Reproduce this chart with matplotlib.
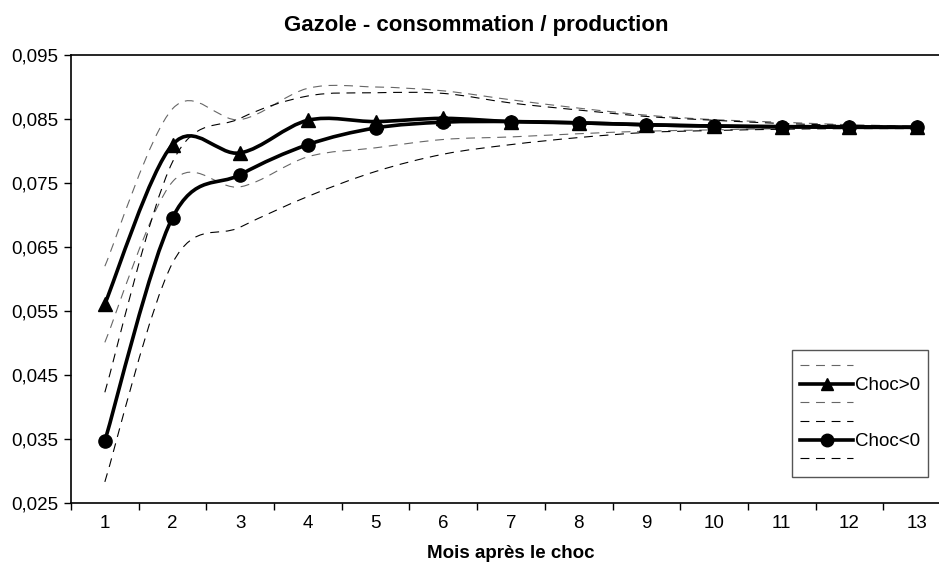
import matplotlib
matplotlib.use("Agg")
import matplotlib.pyplot as plt
from matplotlib.path import Path
from matplotlib.patches import PathPatch
from matplotlib.lines import Line2D
from matplotlib.ticker import FuncFormatter

plt.rcParams['font.family'] = ['Liberation Sans', 'DejaVu Sans']

# Reponse du ratio gazole consommation / production, mois apres le choc
mois = list(range(1, 14))
choc_pos = [0.0561, 0.0810, 0.0797, 0.0848, 0.0846, 0.0851, 0.0846,
            0.0844, 0.0841, 0.0839, 0.0838, 0.0838, 0.0837]
choc_neg = [0.0347, 0.0696, 0.0763, 0.0810, 0.0836, 0.0845, 0.0846,
            0.0844, 0.0841, 0.0839, 0.0838, 0.0837, 0.0837]
# bornes des intervalles de confiance
pos_haut = [0.0620, 0.0866, 0.0849, 0.0898, 0.0900, 0.0894, 0.0880,
            0.0867, 0.0856, 0.0849, 0.0845, 0.0841, 0.0839]
pos_bas = [0.0501, 0.0752, 0.0744, 0.0791, 0.0805, 0.0818, 0.0822,
           0.0827, 0.0831, 0.0833, 0.0835, 0.0836, 0.0836]
neg_haut = [0.0423, 0.0783, 0.0851, 0.0886, 0.0891, 0.0890, 0.0875,
            0.0864, 0.0854, 0.0848, 0.0843, 0.0840, 0.0838]
neg_bas = [0.0283, 0.0625, 0.0681, 0.0729, 0.0768, 0.0795, 0.0810,
           0.0821, 0.0829, 0.0832, 0.0834, 0.0835, 0.0835]
labels_legende = ['', 'Choc>0', '', '', 'Choc<0', '']


def courbe_lissee(ax, x, y, **kw):
    # lissage facon Excel : segments de Bezier cubiques entre les points
    pts = list(zip(x, y))
    n = len(pts)
    verts = [pts[0]]
    codes = [Path.MOVETO]
    for i in range(n - 1):
        p0 = pts[i - 1] if i > 0 else pts[i]
        p1 = pts[i]
        p2 = pts[i + 1]
        p3 = pts[i + 2] if i + 2 < n else pts[i + 1]
        c1 = (p1[0] + (p2[0] - p0[0]) / 6.0, p1[1] + (p2[1] - p0[1]) / 6.0)
        c2 = (p2[0] - (p3[0] - p1[0]) / 6.0, p2[1] - (p3[1] - p1[1]) / 6.0)
        verts += [c1, c2, p2]
        codes += [Path.CURVE4] * 3
    patch = PathPatch(Path(verts, codes), facecolor='none', **kw)
    ax.add_patch(patch)
    return patch


fig = plt.figure(figsize=(9.39, 5.71), dpi=100)
ax = fig.add_axes([71 / 939, 68 / 571, 880 / 939, 448 / 571])

gris = '#666666'
epais = 2.6
tirets = dict(linewidth=0.8, linestyle=(0, (8, 6)))
courbe_lissee(ax, mois, pos_haut, edgecolor=gris, **tirets)
courbe_lissee(ax, mois, pos_bas, edgecolor=gris, **tirets)
courbe_lissee(ax, mois, neg_haut, edgecolor='black', **tirets)
courbe_lissee(ax, mois, neg_bas, edgecolor='black', **tirets)
courbe_lissee(ax, mois, choc_pos, edgecolor='black', linewidth=epais, zorder=3)
courbe_lissee(ax, mois, choc_neg, edgecolor='black', linewidth=epais, zorder=3)
ax.plot(mois, choc_pos, linestyle='none', marker='^', markersize=9.5, color='black', zorder=4)
ax.plot(mois, choc_neg, linestyle='none', marker='o', markersize=9.5, color='black', zorder=4)

ax.set_xlim(0.5, 13.5)
ax.set_ylim(0.025, 0.095)
ax.set_yticks([0.025 + 0.01 * k for k in range(8)])
ax.yaxis.set_major_formatter(FuncFormatter(lambda v, p: ('%.3f' % v).replace('.', ',')))
ax.set_xticks([k + 0.5 for k in range(0, 14)])
ax.set_xticklabels([])
ax.set_xticks(mois, minor=True)
ax.set_xticklabels([str(m) for m in mois], minor=True)
ax.tick_params(axis='x', which='minor', length=0, pad=9, labelsize=13.5)
ax.tick_params(axis='x', which='major', direction='out', length=5, width=1)
ax.tick_params(axis='y', direction='out', length=5, width=1, labelsize=13.5, pad=4)
for s in ax.spines.values():
    s.set_linewidth(1.2)

ax.set_xlabel('Mois après le choc', fontsize=13.5, fontweight='bold', labelpad=9)
fig.text(476 / 939, 1 - 26 / 571, 'Gazole - consommation / production',
         ha='center', va='center', fontsize=16, fontweight='bold')

poignees = [
    Line2D([], [], color=gris, **tirets),
    Line2D([], [], color='black', linewidth=epais, marker='^', markersize=9),
    Line2D([], [], color=gris, **tirets),
    Line2D([], [], color='black', **tirets),
    Line2D([], [], color='black', linewidth=epais, marker='o', markersize=9),
    Line2D([], [], color='black', **tirets),
]
leg = ax.legend(poignees, labels_legende, loc='upper left',
                bbox_to_anchor=(792 / 939, 1 - 350 / 571), bbox_transform=fig.transFigure,
                fontsize=13.5, handlelength=2.8, handletextpad=0.1, labelspacing=0.08,
                borderpad=0.45, borderaxespad=0, fancybox=False, framealpha=1,
                edgecolor='#555555')
leg.get_frame().set_linewidth(1.0)

fig.savefig('out.png', dpi=100)
